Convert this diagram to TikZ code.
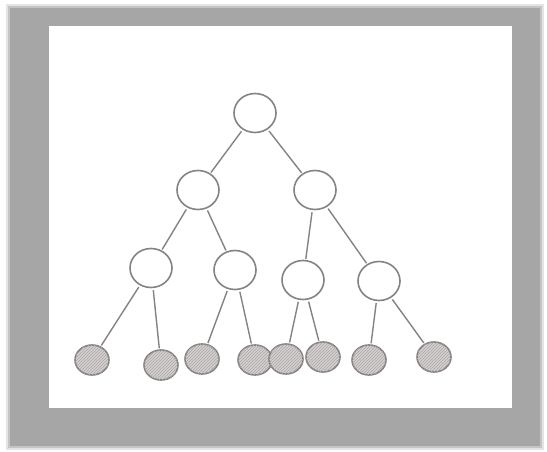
\documentclass[tikz,border=0pt]{standalone}
\usepackage{xcolor}
\usepackage{tikz}
\usetikzlibrary{shapes.geometric,patterns}
\definecolor{marco}{RGB}{166,166,166}
\definecolor{lapiz}{RGB}{135,130,130}
\definecolor{relleno}{RGB}{212,208,208}

\begin{document}
\begin{tikzpicture}[x=1pt, y=-1pt,
  nodo/.style={ellipse, draw=lapiz, line width=1.6pt, fill=white,
    minimum width=42pt, minimum height=39pt, inner sep=0pt},
  hoja/.style={ellipse, draw=lapiz, line width=1.6pt, fill=relleno,
    minimum width=34pt, minimum height=30pt, inner sep=0pt,
    postaction={pattern=north east lines, pattern color=lapiz!70}},
  rama/.style={draw=lapiz, line width=1.4pt, shorten <=2pt, shorten >=1pt},
]
\useasboundingbox (0,0) rectangle (547,452);
\fill[white] (0,0) rectangle (547,452);
% marco gris con borde difuso
\fill[marco!30] (6,4) rectangle (544,450);
\fill[marco!65] (8,6) rectangle (542,448);
\fill[marco] (10,8) rectangle (540,446);
\fill[white] (49,26) rectangle (512,408);
% nodos internos
\foreach \n/\x/\y in {r/255/113, a/198/190, b/315/190,
  aa/151/268, ab/235/270, ba/303/280, bb/379/281} {
  \node[nodo] (\n) at (\x,\y) {};
}
% hojas
\foreach \n/\x/\y in {h1/92/360, h2/161/365, h3/202/359, h4/255/360,
  h5/286/359, h6/323/357, h7/369/360, h8/434/357} {
  \node[hoja] (\n) at (\x,\y) {};
}
% ramas
\foreach \p/\h in {r/a, r/b, a/aa, a/ab, b/ba, b/bb,
  aa/h1, aa/h2, ab/h3, ab/h4, ba/h5, ba/h6, bb/h7, bb/h8} {
  \draw[rama] (\p) -- (\h);
}
\end{tikzpicture}
\end{document}
